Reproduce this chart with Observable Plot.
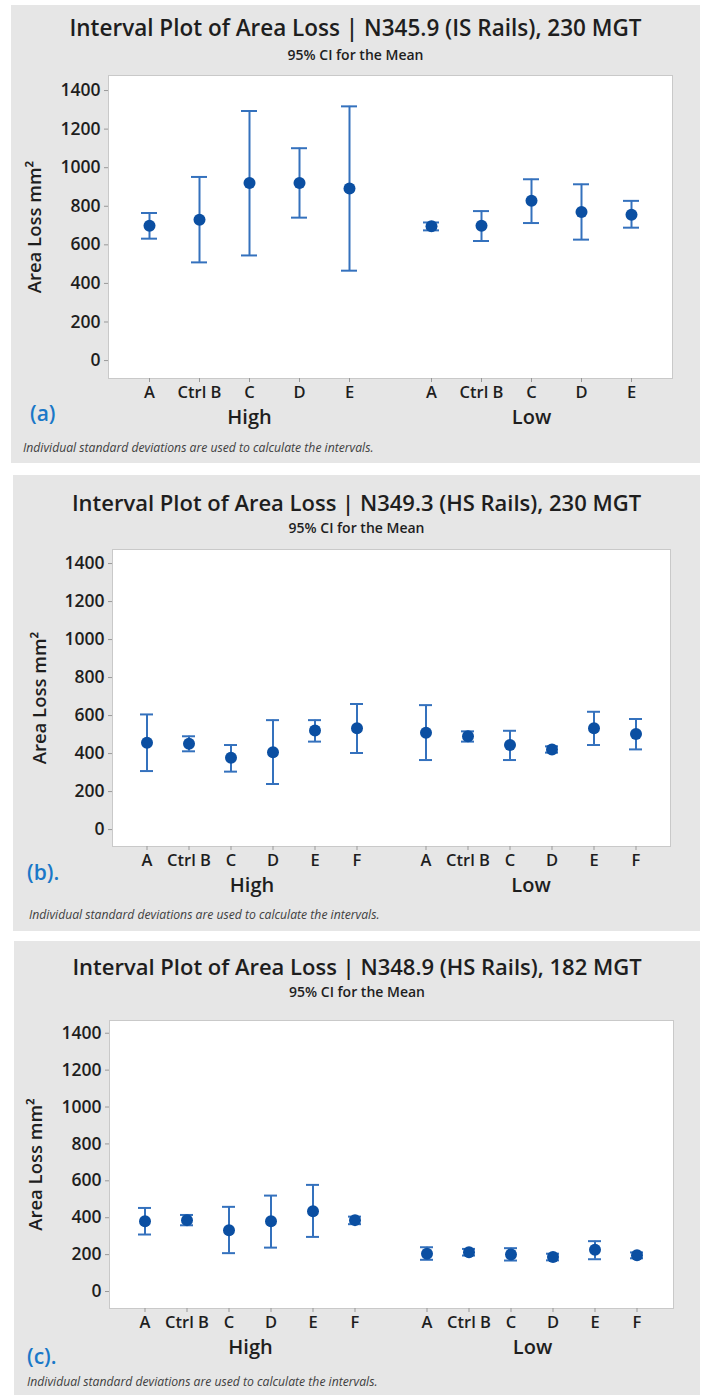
<!DOCTYPE html>
<html>
<head>
<meta charset="utf-8">
<script src="https://cdn.jsdelivr.net/npm/d3@7"></script>
<script src="https://cdn.jsdelivr.net/npm/@observablehq/plot@0.6"></script>
<style>
  html, body { margin: 0; padding: 0; background: #ffffff; }
  body { position: relative; width: 702px; height: 1395px; overflow: hidden; font-family: "Open Sans", sans-serif; }
  .panel { position: absolute; background: #e6e6e6; }
  .title { position: absolute; text-align: center; font-weight: 600; color: #1e1e1e; line-height: 1; white-space: nowrap; }
  .subtitle { position: absolute; text-align: center; font-size: 14px; font-weight: 600; color: #1e1e1e; line-height: 1; white-space: nowrap; }
  .tag { position: absolute; font-size: 21px; font-weight: 600; color: #1a78c8; line-height: 1; }
  .caption { position: absolute; font-size: 12.2px; font-style: italic; color: #404040; line-height: 1; white-space: nowrap; }
  .chart { position: absolute; left: 0; }
</style>
</head>
<body>
<script>
// ---------- data ----------
const groups = ["High", "Low"];
const catsA = ["A", "Ctrl B", "C", "D", "E"];
const catsBC = ["A", "Ctrl B", "C", "D", "E", "F"];
const yTicks = [0, 200, 400, 600, 800, 1000, 1200, 1400];
const yLabel = "Area Loss mm\u00B2";
const subtitle = "95% CI for the Mean";
const caption = "Individual standard deviations are used to calculate the intervals.";

// (a) N345.9 (IS Rails), 230 MGT
const titleA = "Interval Plot of Area Loss | N345.9 (IS Rails), 230 MGT";
const aHighMean = [699, 730, 921, 921, 892];
const aHighLo   = [632, 509, 545, 741, 466];
const aHighHi   = [765, 952, 1294, 1101, 1318];
const aLowMean  = [696, 699, 828, 770, 756];
const aLowLo    = [675, 620, 713, 627, 689];
const aLowHi    = [716, 775, 940, 914, 828];

// (b) N349.3 (HS Rails), 230 MGT
const titleB = "Interval Plot of Area Loss | N349.3 (HS Rails), 230 MGT";
const bHighMean = [457, 452, 378, 407, 522, 533];
const bHighLo   = [308, 412, 305, 240, 463, 403];
const bHighHi   = [606, 491, 445, 576, 576, 661];
const bLowMean  = [510, 491, 445, 422, 533, 503];
const bLowLo    = [366, 463, 366, 405, 445, 422];
const bLowHi    = [655, 517, 520, 438, 620, 582];

// (c) N348.9 (HS Rails), 182 MGT
const titleC = "Interval Plot of Area Loss | N348.9 (HS Rails), 182 MGT";
const cHighMean = [381, 387, 332, 381, 435, 387];
const cHighLo   = [309, 359, 208, 238, 296, 365];
const cHighHi   = [453, 415, 459, 520, 578, 406];
const cLowMean  = [205, 213, 201, 187, 226, 196];
const cLowLo    = [172, 195, 168, 169, 175, 180];
const cLowHi    = [240, 231, 235, 205, 273, 212];

// ---------- layout ----------
const panels = [
  { tag: "(a)", title: titleA, cats: catsA,
    mean: [aHighMean, aLowMean], lo: [aHighLo, aLowLo], hi: [aHighHi, aLowHi],
    box: {left: 11, top: 5, width: 689, height: 458},
    titleSize: 22.5, titleTop: 17, subTop: 47.5, tagPos: [30, 403], capPos: [23, 442],
    svgTop: 60, mt: 15, frameH: 303, mb: 62, ml: 108, mr: 30, yDomain: [-93, 1478], ylabDx: -73 },
  { tag: "(b).", title: titleB, cats: catsBC,
    mean: [bHighMean, bLowMean], lo: [bHighLo, bLowLo], hi: [bHighHi, bLowHi],
    box: {left: 13, top: 475, width: 687, height: 456},
    titleSize: 22, titleTop: 491, subTop: 521, tagPos: [27, 862], capPos: [29, 909],
    svgTop: 534, mt: 15, frameH: 297, mb: 62, ml: 112, mr: 32, yDomain: [-89, 1474], ylabDx: -72 },
  { tag: "(c).", title: titleC, cats: catsBC,
    mean: [cHighMean, cLowMean], lo: [cHighLo, cLowLo], hi: [cHighHi, cLowHi],
    box: {left: 14, top: 941, width: 686, height: 454},
    titleSize: 22, titleTop: 955, subTop: 985, tagPos: [27, 1346], capPos: [27, 1376],
    svgTop: 1005, mt: 15, frameH: 288, mb: 62, ml: 108, mr: 29, yDomain: [-92, 1469], ylabDx: -73 }
];

const dotColor = "#0b4fa2";
const barColor = "#3471bd";

function el(cls, text, css) {
  const d = document.createElement("div");
  d.className = cls;
  d.textContent = text;
  Object.assign(d.style, css);
  document.body.appendChild(d);
  return d;
}

for (const p of panels) {
  el("panel", "", {left: p.box.left + "px", top: p.box.top + "px", width: p.box.width + "px", height: p.box.height + "px"});
  el("title", p.title, {left: p.box.left + "px", width: p.box.width + "px", top: p.titleTop + "px", fontSize: p.titleSize + "px"});
  el("subtitle", subtitle, {left: p.box.left + "px", width: p.box.width + "px", top: p.subTop + "px"});
  el("tag", p.tag, {left: p.tagPos[0] + "px", top: p.tagPos[1] + "px"});
  el("caption", caption, {left: p.capPos[0] + "px", top: p.capPos[1] + "px"});

  const rows = [];
  groups.forEach((g, gi) => p.cats.forEach((c, i) => rows.push({
    group: g, cat: c, mean: p.mean[gi][i], lo: p.lo[gi][i], hi: p.hi[gi][i]
  })));

  const chart = Plot.plot({
    width: 702,
    height: p.mt + p.frameH + p.mb,
    marginTop: p.mt, marginBottom: p.mb, marginLeft: p.ml, marginRight: p.mr,
    style: {background: "transparent", fontFamily: "'Open Sans', sans-serif", color: "#1e1e1e", overflow: "visible"},
    fx: {domain: groups, padding: 0, label: null},
    x: {type: "band", domain: p.cats, paddingInner: 0.68, paddingOuter: 0.64, label: null},
    y: {domain: p.yDomain, label: null},
    marks: [
      Plot.frame({facet: "super", fill: "#ffffff", stroke: "#c9c9c9", strokeWidth: 1}),
      Plot.axisY({ticks: yTicks, tickFormat: d => String(d), tickSize: 4, tickPadding: 4, fontSize: 17.5, fontWeight: 600, stroke: "#999", fill: "#1e1e1e", label: null}),
      Plot.axisX({tickSize: 4, tickPadding: 4, fontSize: 16.5, fontWeight: 600, stroke: "#999", fill: "#1e1e1e", label: null}),
      Plot.axisFx({anchor: "bottom", tickSize: 0, tickPadding: 31, fontSize: 20, fontWeight: 600, fill: "#1e1e1e", label: null}),
      Plot.text([yLabel], {text: d => d, frameAnchor: "left", textAnchor: "middle", rotate: -90, dx: p.ylabDx, facet: "super", fontSize: 18.5, fontWeight: 600, fill: "#1e1e1e"}),
      Plot.ruleX(rows, {fx: "group", x: "cat", y1: "lo", y2: "hi", stroke: barColor, strokeWidth: 2}),
      Plot.tickY(rows, {fx: "group", x: "cat", y: "lo", stroke: barColor, strokeWidth: 2}),
      Plot.tickY(rows, {fx: "group", x: "cat", y: "hi", stroke: barColor, strokeWidth: 2}),
      Plot.dot(rows, {fx: "group", x: "cat", y: "mean", r: 6, fill: dotColor, stroke: "none"})
    ]
  });
  chart.classList.add("chart");
  chart.style.top = p.svgTop + "px";
  chart.style.position = "absolute";
  document.body.appendChild(chart);
}
</script>
</body>
</html>
